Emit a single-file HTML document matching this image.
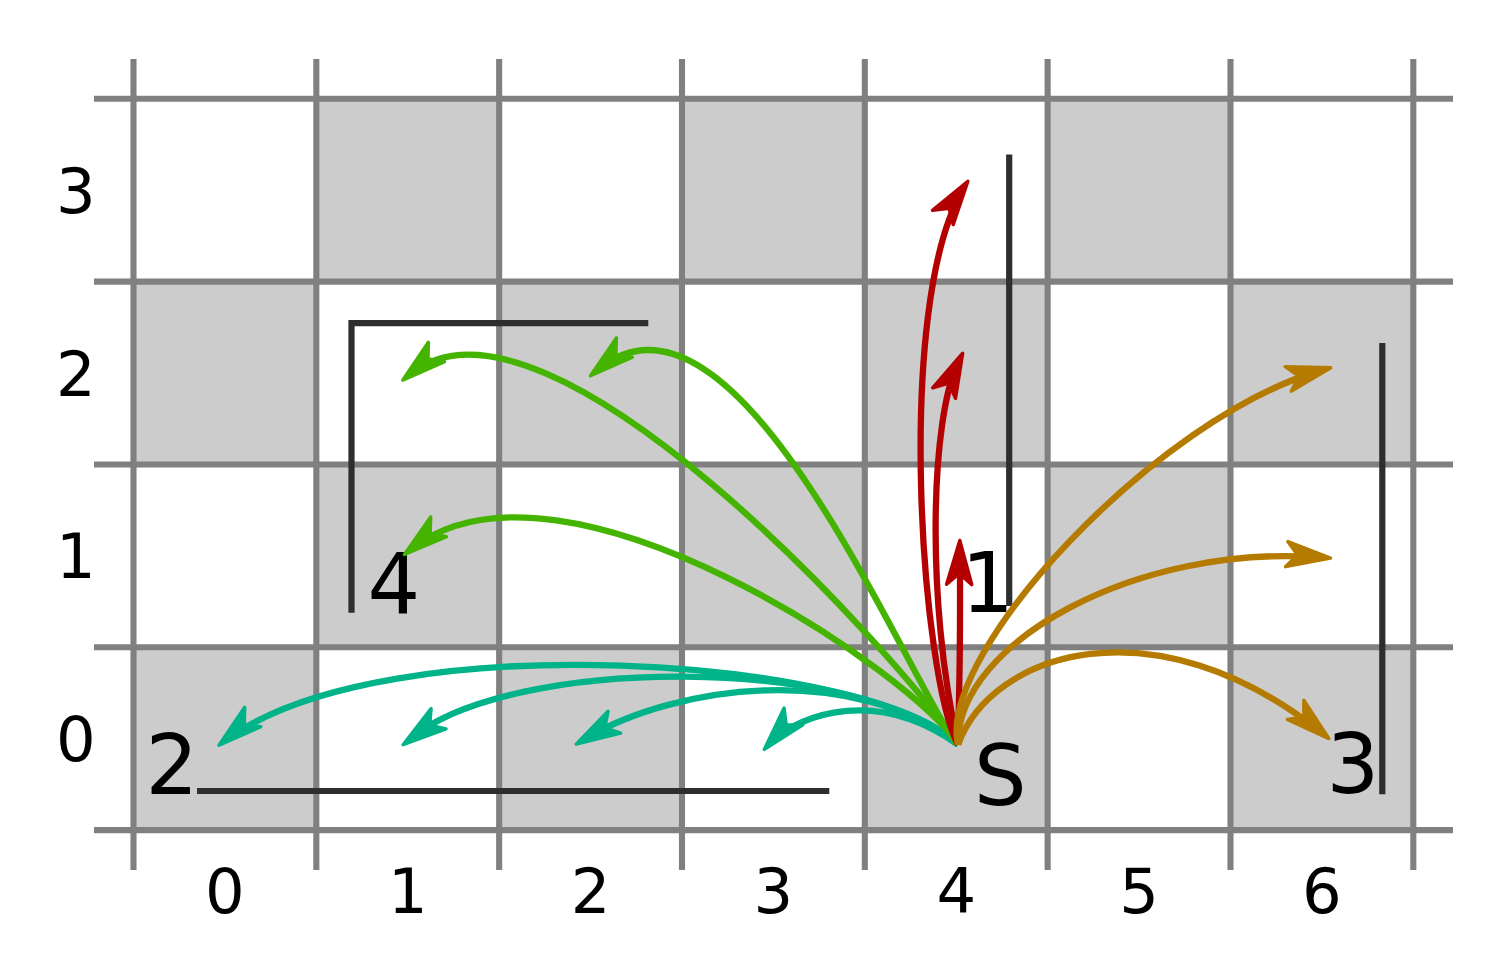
<!DOCTYPE html>
<html lang="en"><head><meta charset="utf-8"><title>Grid moves</title>
<style>html,body{margin:0;padding:0;background:#fff;overflow:hidden}svg{display:block}text{font-family:"DejaVu Sans","Liberation Sans",sans-serif;fill:#000}</style></head>
<body>
<svg width="1512" height="973" viewBox="0 0 1512 973">
<rect width="1512" height="973" fill="#fff"/>
<g fill="#cccccc">
<rect x="316.33" y="98.80" width="182.83" height="182.83"/>
<rect x="681.99" y="98.80" width="182.83" height="182.83"/>
<rect x="1047.65" y="98.80" width="182.83" height="182.83"/>
<rect x="133.50" y="281.63" width="182.83" height="182.83"/>
<rect x="499.16" y="281.63" width="182.83" height="182.83"/>
<rect x="864.82" y="281.63" width="182.83" height="182.83"/>
<rect x="1230.48" y="281.63" width="182.83" height="182.83"/>
<rect x="316.33" y="464.46" width="182.83" height="182.83"/>
<rect x="681.99" y="464.46" width="182.83" height="182.83"/>
<rect x="1047.65" y="464.46" width="182.83" height="182.83"/>
<rect x="133.50" y="647.29" width="182.83" height="182.83"/>
<rect x="499.16" y="647.29" width="182.83" height="182.83"/>
<rect x="864.82" y="647.29" width="182.83" height="182.83"/>
<rect x="1230.48" y="647.29" width="182.83" height="182.83"/>
</g>
<g stroke="#808080" stroke-width="6.1" fill="none">
<line x1="133.50" y1="59.0" x2="133.50" y2="870.0"/>
<line x1="316.33" y1="59.0" x2="316.33" y2="870.0"/>
<line x1="499.16" y1="59.0" x2="499.16" y2="870.0"/>
<line x1="681.99" y1="59.0" x2="681.99" y2="870.0"/>
<line x1="864.82" y1="59.0" x2="864.82" y2="870.0"/>
<line x1="1047.65" y1="59.0" x2="1047.65" y2="870.0"/>
<line x1="1230.48" y1="59.0" x2="1230.48" y2="870.0"/>
<line x1="1413.31" y1="59.0" x2="1413.31" y2="870.0"/>
<line x1="94.0" y1="98.80" x2="1453.0" y2="98.80"/>
<line x1="94.0" y1="281.63" x2="1453.0" y2="281.63"/>
<line x1="94.0" y1="464.46" x2="1453.0" y2="464.46"/>
<line x1="94.0" y1="647.29" x2="1453.0" y2="647.29"/>
<line x1="94.0" y1="830.12" x2="1453.0" y2="830.12"/>
</g>
<g font-size="62.4" text-anchor="middle">
<text x="224.92" y="913.3">0</text>
<text x="407.75" y="913.3">1</text>
<text x="590.58" y="913.3">2</text>
<text x="773.40" y="913.3">3</text>
<text x="956.24" y="913.3">4</text>
<text x="1139.07" y="913.3">5</text>
<text x="1321.89" y="913.3">6</text>
<text x="75.8" y="761.20">0</text>
<text x="75.8" y="578.38">1</text>
<text x="75.8" y="395.55">2</text>
<text x="75.8" y="212.72">3</text>
</g>
<g stroke="#2e2e2e" stroke-width="6.2" fill="none">
<path d="M197 791H829.3"/>
<path d="M1009.2 154.5V606"/>
<path d="M1382.3 343V794.3"/>
<path d="M351.5 612.8V323.2H648.3" stroke-linejoin="miter"/>
</g>
<g font-size="82.9">
<text x="145.4" y="794.1">2</text>
<text x="367.5" y="612.9">4</text>
<text x="961.2" y="611.5">1</text>
<text x="1326.4" y="793.3">3</text>
<text x="974" y="805.3">S</text>
</g>
<g stroke="#00b388" fill="none"><path d="M958.0 744.6C874.1 658.0 387.0 622.3 227.3 739.2" stroke-width="6.3" stroke-linejoin="round"/><polygon points="219.0,745.2 244.7,707.3 244.3,724.1 260.8,726.7" fill="#00b388" stroke-width="3.4" stroke-linejoin="round"/></g>
<g stroke="#00b388" fill="none"><path d="M958.0 744.6C858.0 655.4 513.4 654.6 411.0 738.1" stroke-width="6.3" stroke-linejoin="round"/><polygon points="403.1,744.7 431.1,708.5 429.7,725.2 446.0,728.9" fill="#00b388" stroke-width="3.4" stroke-linejoin="round"/></g>
<g stroke="#00b388" fill="none"><path d="M958.0 744.6C853.2 662.1 676.7 684.3 585.0 738.8" stroke-width="6.3" stroke-linejoin="round"/><polygon points="576.2,744.1 608.1,711.2 604.8,727.7 620.6,733.1" fill="#00b388" stroke-width="3.4" stroke-linejoin="round"/></g>
<g stroke="#00b388" fill="none"><path d="M958.0 744.6C862.8 677.5 784.0 727.4 771.1 741.7" stroke-width="6.3" stroke-linejoin="round"/><polygon points="764.3,749.4 784.1,708.1 786.2,724.7 802.9,724.9" fill="#00b388" stroke-width="3.4" stroke-linejoin="round"/></g>
<g stroke="#44b400" fill="none"><path d="M958.0 744.6C898.7 655.9 546.6 264.6 410.8 373.7" stroke-width="6.3" stroke-linejoin="round"/><polygon points="402.7,380.1 428.4,342.3 428.0,359.0 444.6,361.6" fill="#44b400" stroke-width="3.4" stroke-linejoin="round"/></g>
<g stroke="#44b400" fill="none"><path d="M958.0 744.6C910.9 690.2 740.0 254.1 598.5 369.2" stroke-width="6.3" stroke-linejoin="round"/><polygon points="590.5,375.7 616.4,337.9 615.9,354.6 632.4,357.3" fill="#44b400" stroke-width="3.4" stroke-linejoin="round"/></g>
<g stroke="#44b400" fill="none"><path d="M958.0 744.6C919.8 678.4 563.9 431.7 412.6 548.2" stroke-width="6.3" stroke-linejoin="round"/><polygon points="404.4,554.5 430.7,517.0 430.1,533.7 446.5,536.6" fill="#44b400" stroke-width="3.4" stroke-linejoin="round"/></g>
<g stroke="#b40000" fill="none"><path d="M958.0 744.6C921.8 677.4 894.1 306.1 962.8 190.2" stroke-width="6.3" stroke-linejoin="round"/><polygon points="967.9,181.3 953.2,224.6 949.1,208.4 932.5,210.2" fill="#b40000" stroke-width="3.4" stroke-linejoin="round"/></g>
<g stroke="#b40000" fill="none"><path d="M958.0 744.6C925.2 596.7 931.2 417.6 958.1 362.5" stroke-width="6.3" stroke-linejoin="round"/><polygon points="962.7,353.2 955.5,398.4 948.8,383.2 932.7,387.8" fill="#b40000" stroke-width="3.4" stroke-linejoin="round"/></g>
<g stroke="#b40000" fill="none"><path d="M958.0 744.6C959.4 669.6 960.6 667.8 959.9 550.8" stroke-width="6.3" stroke-linejoin="round"/><polygon points="959.8,540.5 971.8,584.7 959.3,573.5 946.6,584.3" fill="#b40000" stroke-width="3.4" stroke-linejoin="round"/></g>
<g stroke="#b47b00" fill="none"><path d="M958.0 744.6C936.6 653.3 1158.4 416.1 1320.9 370.6" stroke-width="6.3" stroke-linejoin="round"/><polygon points="1330.8,367.8 1291.4,391.1 1298.9,376.1 1285.1,366.7" fill="#b47b00" stroke-width="3.4" stroke-linejoin="round"/></g>
<g stroke="#b47b00" fill="none"><path d="M958.0 744.6C955.9 642.9 1137.1 543.5 1320.2 557.4" stroke-width="6.3" stroke-linejoin="round"/><polygon points="1330.5,558.1 1285.5,566.7 1297.6,555.1 1287.8,541.6" fill="#b47b00" stroke-width="3.4" stroke-linejoin="round"/></g>
<g stroke="#b47b00" fill="none"><path d="M958.0 744.6C992.4 650.9 1155.7 600.7 1320.8 732.2" stroke-width="6.3" stroke-linejoin="round"/><polygon points="1328.9,738.6 1287.4,719.4 1303.9,717.1 1303.8,700.3" fill="#b47b00" stroke-width="3.4" stroke-linejoin="round"/></g>
</svg>
</body></html>
